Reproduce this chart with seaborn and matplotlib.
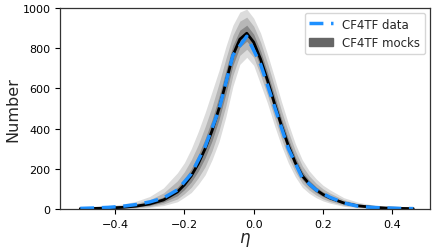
import numpy as np
import pandas as pd
import matplotlib
matplotlib.use("Agg")
import matplotlib.pyplot as plt
import seaborn as sns
from matplotlib.patches import Patch
from matplotlib.lines import Line2D

# observed data histogram (bin centres, counts)
eta_data = [-0.50, -0.46, -0.42, -0.38, -0.34, -0.30, -0.26, -0.22, -0.18, -0.14, -0.10, -0.06, -0.02,
            0.02, 0.06, 0.10, 0.14, 0.18, 0.22, 0.26, 0.30, 0.34, 0.38, 0.42, 0.46]
data_counts = [3, 5, 8, 13, 22, 35, 55, 95, 175, 310, 495, 765, 860,
               720, 510, 300, 155, 95, 58, 30, 14, 8, 5, 3, 2]

# mocks: median and percentile bands
eta_mock = [-0.50, -0.46, -0.42, -0.38, -0.34, -0.30, -0.26, -0.22,
            -0.20, -0.18, -0.16, -0.14, -0.12, -0.10, -0.08, -0.06, -0.04, -0.02,
            0.00, 0.02, 0.04, 0.06, 0.08, 0.10, 0.12, 0.14, 0.16, 0.18, 0.20,
            0.22, 0.26, 0.30, 0.34, 0.38, 0.42, 0.46]
mock_median = [2, 3, 5, 8, 14, 25, 45, 85,
               120, 165, 225, 300, 390, 500, 630, 765, 845, 875,
               830, 745, 640, 525, 415, 315, 230, 165, 125, 95, 72,
               55, 30, 16, 9, 5, 3, 2]
inner_lo = [1, 2, 3, 5, 10, 18, 34, 66,
            96, 135, 188, 255, 340, 445, 575, 715, 805, 835,
            795, 705, 605, 490, 385, 288, 208, 147, 110, 82, 61,
            46, 24, 12, 6, 3, 2, 1]
inner_hi = [3, 5, 7, 12, 20, 34, 60, 108,
            148, 200, 268, 350, 445, 560, 690, 815, 890, 915,
            870, 785, 680, 565, 450, 348, 258, 188, 143, 110, 85,
            66, 37, 21, 12, 7, 4, 3]
mid_lo = [0, 1, 2, 3, 6, 12, 25, 50,
          76, 108, 155, 210, 290, 390, 515, 665, 765, 795,
          755, 665, 565, 455, 350, 258, 185, 128, 94, 69, 50,
          37, 18, 9, 4, 2, 1, 0]
mid_hi = [5, 7, 10, 17, 28, 46, 80, 140,
          185, 245, 320, 410, 510, 625, 750, 865, 935, 955,
          910, 830, 725, 610, 490, 385, 290, 215, 165, 128, 100,
          79, 46, 27, 16, 10, 6, 4]
outer_lo = [0, 0, 1, 2, 4, 8, 17, 36,
            58, 82, 122, 170, 245, 335, 460, 610, 720, 755,
            715, 620, 525, 415, 315, 228, 160, 108, 78, 56, 40,
            29, 13, 6, 2, 1, 0, 0]
outer_hi = [8, 11, 15, 24, 38, 62, 105, 180,
            230, 300, 385, 480, 585, 690, 810, 915, 980, 995,
            950, 875, 770, 655, 535, 425, 325, 245, 190, 150, 118,
            95, 56, 34, 21, 13, 8, 5]

df_data = pd.DataFrame({"eta": eta_data, "count": data_counts})
df_mock = pd.DataFrame({"eta": eta_mock, "median": mock_median})

sns.set_style("ticks")
plt.rcParams["font.family"] = ["DejaVu Sans"]

fig = plt.figure(figsize=(4.36, 2.53), dpi=100)
ax = fig.add_axes([0.138, 0.170, 0.848, 0.794])

ax.fill_between(eta_mock, outer_lo, outer_hi, color="#dcdcdc", lw=0)
ax.fill_between(eta_mock, mid_lo, mid_hi, color="#b7b7b7", lw=0)
ax.fill_between(eta_mock, inner_lo, inner_hi, color="#888888", lw=0)
sns.lineplot(data=df_mock, x="eta", y="median", ax=ax, color="black", lw=2.0)
sns.lineplot(data=df_data, x="eta", y="count", ax=ax, color="#1e90ff", lw=2.5,
             linestyle=(0, (4, 2.2)))

ax.set_xlim(-0.558, 0.508)
ax.set_ylim(0, 1000)
ax.set_xticks([-0.4, -0.2, 0.0, 0.2, 0.4])
ax.set_yticks([0, 200, 400, 600, 800, 1000])
ax.tick_params(labelsize=8, length=3.5, width=0.8, colors="black")
for s in ax.spines.values():
    s.set_color("#333333")
    s.set_linewidth(0.9)
ax.set_xlabel(r"$\eta$", fontsize=12, labelpad=1)
ax.set_ylabel("Number", fontsize=11.5, labelpad=1.5)

handles = [Line2D([], [], color="#1e90ff", lw=2.5, linestyle=(0, (4, 2.2))),
           Patch(facecolor="#666666", edgecolor="#666666")]
ax.legend(handles, ["CF4TF data", "CF4TF mocks"], loc="upper right", fontsize=8.5,
          frameon=True, handlelength=2.0, borderaxespad=0.4)

fig.savefig("out.png", dpi=100)
